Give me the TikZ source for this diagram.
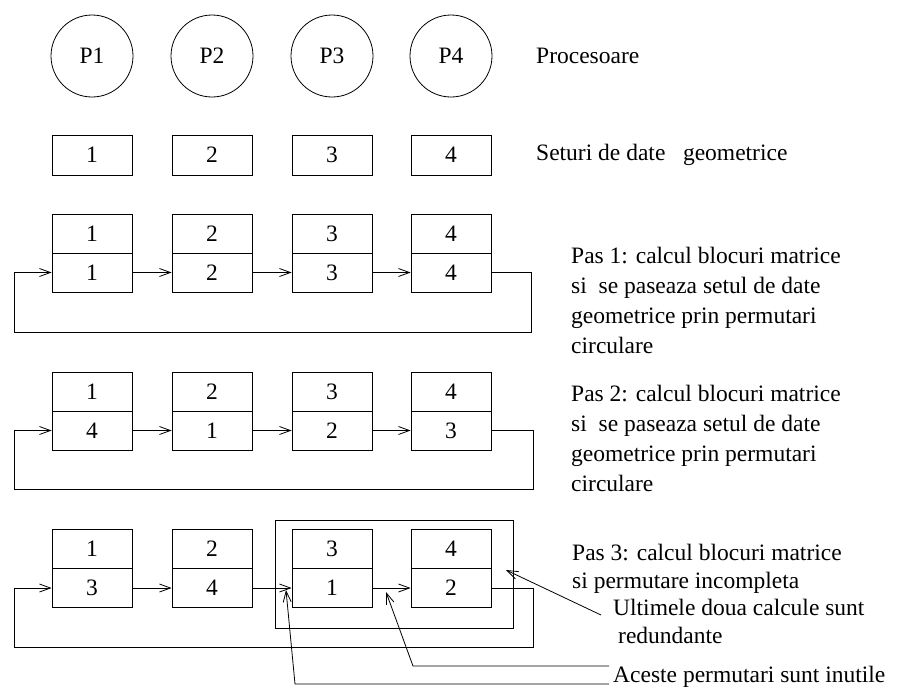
\documentclass[tikz,border=0pt]{standalone}
\usepackage{fontspec}
\setmainfont{Liberation Serif}
\usetikzlibrary{arrows.meta,calc}

\begin{document}
\begin{tikzpicture}[x=1pt,y=-1pt,
  every node/.style={font=\fontsize{23.5}{30}\selectfont, inner sep=0pt},
  proc/.style={circle, draw, line width=0.8pt, minimum size=82pt},
  datbox/.style={rectangle, draw, line width=0.8pt, minimum width=80pt, minimum height=40pt},
  half/.style={rectangle, draw, line width=0.8pt, minimum width=80pt, minimum height=39pt},
  arr/.style={line width=0.8pt, -{Straight Barb[length=11pt,width=8pt]}},
  note/.style={anchor=north west, align=left},
  tight/.style={font=\fontsize{23.5}{28}\selectfont},
]
\useasboundingbox (0,0) rectangle (899,689);

% processors, data sets and the three passes (top / bottom halves)
\foreach \i/\x/\b/\c/\d in {1/92/1/4/3, 2/212/2/1/4, 3/332/3/2/1, 4/451/4/3/2} {
  \node[proc]   (p\i)  at (\x,56)    {P\i};
  \node[datbox] (s\i)  at (\x,155)   {\i};
  \node[half]   (at\i) at (\x,233.5) {\i};
  \node[half]   (ab\i) at (\x,272.5) {\b};
  \node[half]   (bt\i) at (\x,391.5) {\i};
  \node[half]   (bb\i) at (\x,430.5) {\c};
  \node[half]   (ct\i) at (\x,549)   {\i};
  \node[half]   (cb\i) at (\x,588)   {\d};
}

% group around the last two processors of pass 3
\node[draw, line width=0.8pt, minimum width=238pt, minimum height=108pt] (grp) at (394,574) {};

% forward links inside each pass
\foreach \i/\j in {1/2,2/3,3/4} {
  \draw[arr] (ab\i.east) -- (ab\j.west);
  \draw[arr] (bb\i.east) -- (bb\j.west);
  \draw[arr] (cb\i.east) -- (cb\j.west);
}

% circular return links
\coordinate (ra) at (531,332);  \coordinate (la) at (14,272.5);
\coordinate (rb) at (533,489);  \coordinate (lb) at (14,430.5);
\coordinate (rc) at (533,647);  \coordinate (lc) at (14,588);
\draw[arr] (ab4.east) -| (ra) -| (la) -- (ab1.west);
\draw[arr] (bb4.east) -| (rb) -| (lb) -- (bb1.west);
\draw[arr] (cb4.east) -| (rc) -| (lc) -- (cb1.west);

% labels
\node[anchor=west] (lproc) at (536,56)  {Procesoare};
\node[anchor=west] (lset)  at (536,155) {Seturi de date~~~geometrice};
\node[note] (pas1) at (571,246.5) {Pas 1: calcul blocuri matrice\\si~~se paseaza setul de date\\geometrice prin permutari\\circulare};
\node[note] (pas2) at (571,384.5) {Pas 2: calcul blocuri matrice\\si~~se paseaza setul de date\\geometrice prin permutari\\circulare};
\node[note, tight] (pas3) at (572,543.5) {Pas 3: calcul blocuri matrice\\si permutare incompleta};
\node[note, tight] (ult)  at (613,598.5) {Ultimele doua calcule sunt\\\hspace*{5pt}redundante};
\node[note] (ace)  at (613,666) {Aceste permutari sunt inutile};

% annotation pointers
\coordinate (u0) at (601,615);  \coordinate (u1) at (506,570);
\draw[arr] (u0) -- (u1);
\coordinate (v0) at (609,666);  \coordinate (v1) at (413,666);  \coordinate (v2) at (386,592);
\draw[arr] (v0) -- (v1) -- (v2);
\coordinate (w0) at (609,684);  \coordinate (w1) at (295,684);  \coordinate (w2) at (286,590);
\draw[arr] (w0) -- (w1) -- (w2);
\end{tikzpicture}
\end{document}
